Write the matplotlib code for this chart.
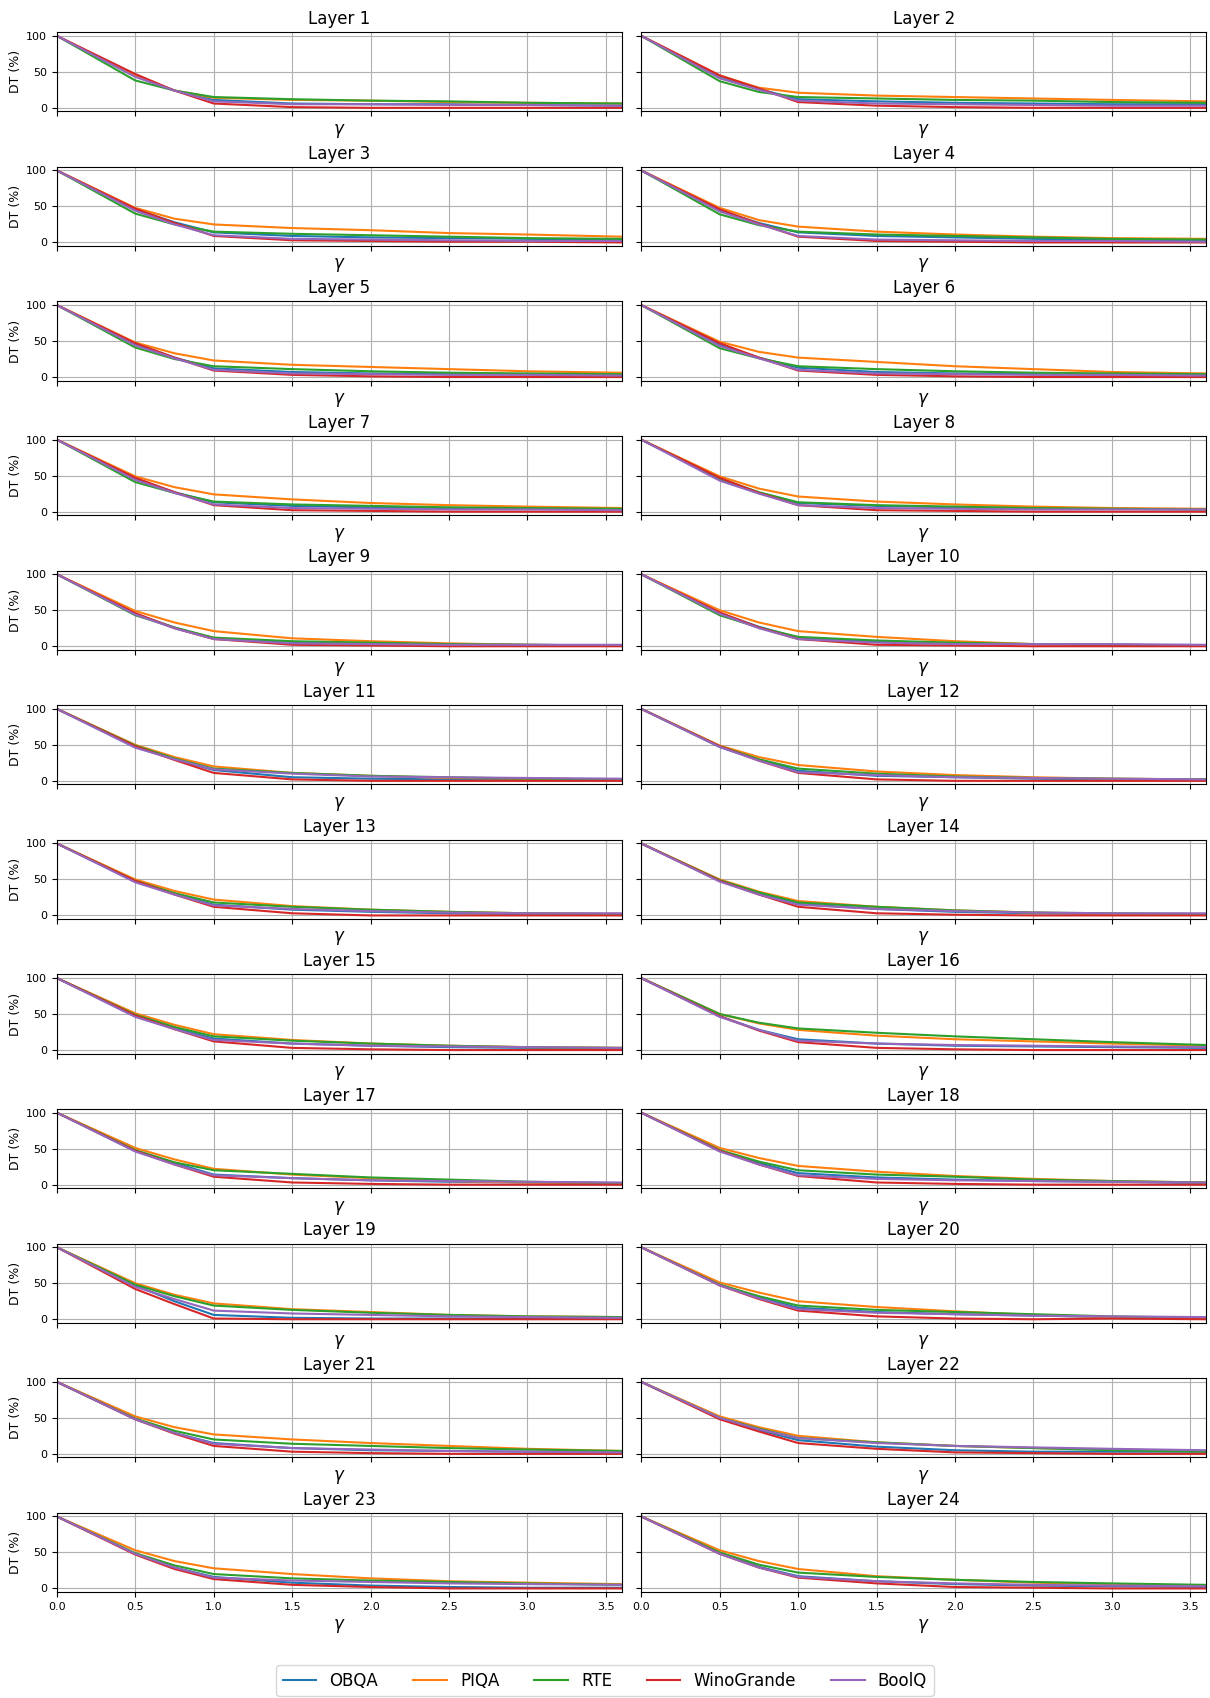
import matplotlib
matplotlib.use("Agg")
import matplotlib.pyplot as plt

gamma = [0.0, 0.5, 0.75, 1.0, 1.5, 2.0, 2.5, 3.0, 3.6]
datasets = ["OBQA", "PIQA", "RTE", "WinoGrande", "BoolQ"]
colors = ["tab:blue", "tab:orange", "tab:green", "tab:red", "tab:purple"]

# DT (%) per layer, one list per dataset
obqa = [
    [100, 44, 24, 11, 6, 5, 5, 4, 3],
    [100, 42, 26, 12, 9, 7, 6, 5, 5],
    [100, 46, 28, 14, 9, 7, 6, 5, 4],
    [100, 44, 27, 14, 9, 7, 5, 4, 3],
    [100, 46, 27, 12, 7, 5, 4, 4, 3],
    [100, 45, 27, 13, 7, 5, 4, 3, 3],
    [100, 46, 27, 13, 8, 6, 5, 4, 3],
    [100, 45, 26, 12, 8, 6, 5, 4, 3],
    [100, 45, 26, 11, 5, 4, 3, 2, 1],
    [100, 46, 27, 12, 6, 4, 3, 2, 1],
    [100, 47, 30, 15, 5, 3, 2, 1, 1],
    [100, 47, 29, 14, 7, 5, 3, 2, 2],
    [100, 47, 30, 15, 8, 5, 3, 2, 2],
    [100, 48, 30, 16, 9, 5, 3, 2, 1],
    [100, 47, 30, 16, 9, 6, 4, 3, 2],
    [100, 47, 28, 15, 9, 6, 5, 4, 3],
    [100, 47, 30, 14, 9, 6, 4, 3, 2],
    [100, 47, 30, 16, 10, 7, 5, 4, 2],
    [100, 47, 25, 6, 2, 1, 1, 1, 1],
    [100, 48, 30, 16, 10, 7, 5, 3, 2],
    [100, 48, 29, 15, 8, 5, 4, 3, 2],
    [100, 49, 33, 19, 10, 5, 3, 3, 3],
    [100, 48, 29, 16, 8, 4, 2, 1, 1],
    [100, 49, 30, 17, 10, 6, 4, 3, 2],
]
piqa = [
    [100, 45, 24, 14, 11, 10, 8, 7, 6],
    [100, 45, 28, 21, 17, 15, 13, 11, 9],
    [100, 48, 33, 25, 20, 17, 13, 11, 8],
    [100, 48, 31, 22, 15, 11, 8, 6, 5],
    [100, 48, 33, 23, 17, 14, 11, 8, 6],
    [100, 49, 35, 27, 21, 15, 11, 7, 5],
    [100, 49, 34, 24, 17, 12, 9, 7, 5],
    [100, 49, 32, 21, 14, 10, 7, 5, 4],
    [100, 49, 33, 21, 11, 7, 4, 2, 1],
    [100, 50, 33, 21, 13, 7, 3, 2, 1],
    [100, 50, 33, 20, 11, 7, 4, 3, 2],
    [100, 49, 33, 22, 13, 8, 5, 3, 2],
    [100, 50, 34, 22, 13, 8, 5, 3, 2],
    [100, 50, 33, 20, 12, 7, 4, 2, 1],
    [100, 51, 35, 22, 14, 9, 6, 4, 3],
    [100, 50, 37, 28, 20, 15, 12, 9, 6],
    [100, 51, 35, 22, 14, 9, 5, 3, 2],
    [100, 51, 37, 26, 18, 12, 8, 5, 3],
    [100, 50, 34, 22, 14, 10, 6, 4, 3],
    [100, 51, 37, 25, 17, 11, 6, 3, 2],
    [100, 52, 37, 27, 20, 15, 11, 7, 4],
    [100, 52, 37, 25, 16, 11, 8, 6, 4],
    [100, 53, 38, 28, 20, 14, 10, 8, 6],
    [100, 53, 38, 27, 17, 12, 8, 6, 4],
]
rte = [
    [100, 38, 24, 15, 12, 10, 9, 7, 6],
    [100, 37, 22, 15, 13, 11, 10, 8, 7],
    [100, 40, 25, 15, 12, 10, 8, 6, 5],
    [100, 39, 24, 15, 11, 9, 7, 5, 4],
    [100, 41, 25, 15, 11, 8, 6, 5, 4],
    [100, 40, 26, 15, 11, 8, 6, 5, 4],
    [100, 41, 26, 14, 10, 8, 6, 5, 4],
    [100, 46, 27, 13, 9, 7, 5, 4, 3],
    [100, 43, 26, 12, 7, 5, 3, 2, 1],
    [100, 43, 26, 13, 8, 5, 3, 2, 1],
    [100, 49, 31, 17, 11, 7, 5, 3, 2],
    [100, 48, 30, 17, 10, 6, 4, 3, 2],
    [100, 48, 31, 18, 12, 8, 5, 3, 2],
    [100, 49, 32, 18, 12, 7, 4, 3, 2],
    [100, 49, 32, 19, 13, 9, 6, 4, 3],
    [100, 50, 38, 30, 24, 19, 15, 11, 7],
    [100, 48, 31, 20, 15, 10, 7, 4, 2],
    [100, 48, 32, 20, 14, 11, 7, 5, 3],
    [100, 48, 32, 19, 13, 9, 6, 4, 3],
    [100, 48, 32, 19, 13, 10, 7, 4, 2],
    [100, 49, 32, 20, 14, 11, 8, 6, 4],
    [100, 50, 35, 22, 16, 11, 8, 5, 3],
    [100, 49, 32, 20, 14, 11, 9, 7, 5],
    [100, 50, 33, 22, 16, 12, 9, 7, 5],
]
wino = [
    [100, 47, 24, 6, 1, 0, 0, 0, 0],
    [100, 45, 27, 8, 3, 1, 0, 0, 0],
    [100, 47, 27, 9, 3, 2, 1, 1, 0],
    [100, 46, 26, 8, 2, 1, 0, 0, 0],
    [100, 47, 27, 9, 3, 1, 0, 0, 0],
    [100, 47, 27, 9, 3, 1, 0, 0, 0],
    [100, 47, 27, 9, 2, 1, 0, 0, 0],
    [100, 47, 26, 9, 2, 1, 0, 0, 0],
    [100, 46, 25, 10, 2, 1, 0, 0, 0],
    [100, 47, 26, 10, 2, 1, 0, 0, 0],
    [100, 48, 29, 11, 2, 0, 0, 0, 0],
    [100, 48, 28, 11, 2, 0, 0, 0, 0],
    [100, 48, 29, 12, 3, 0, 0, 0, 0],
    [100, 48, 29, 12, 3, 1, 0, 0, 0],
    [100, 48, 29, 12, 3, 1, 0, 0, 0],
    [100, 47, 27, 11, 3, 1, 0, 0, 0],
    [100, 47, 28, 11, 3, 1, 0, 0, 0],
    [100, 47, 28, 12, 3, 1, 0, 0, 0],
    [100, 42, 21, 1, 0, 0, 0, 0, 0],
    [100, 47, 28, 12, 4, 1, 0, 1, 0],
    [100, 48, 28, 11, 3, 1, 0, 0, 0],
    [100, 48, 31, 15, 7, 2, 1, 0, 0],
    [100, 47, 27, 13, 5, 2, 0, 0, 0],
    [100, 48, 29, 15, 7, 2, 1, 0, 0],
]
boolq = [
    [100, 43, 24, 9, 5, 5, 4, 4, 3],
    [100, 41, 25, 10, 6, 5, 4, 3, 3],
    [100, 44, 25, 10, 5, 4, 3, 2, 2],
    [100, 43, 25, 9, 4, 3, 2, 2, 1],
    [100, 44, 26, 10, 5, 4, 3, 3, 2],
    [100, 43, 26, 10, 5, 4, 3, 3, 2],
    [100, 44, 26, 10, 5, 4, 3, 3, 2],
    [100, 43, 25, 9, 5, 4, 3, 3, 3],
    [100, 44, 25, 10, 4, 3, 2, 2, 2],
    [100, 45, 25, 10, 5, 3, 3, 3, 2],
    [100, 46, 30, 16, 10, 6, 5, 4, 3],
    [100, 47, 28, 12, 8, 5, 4, 3, 2],
    [100, 46, 29, 14, 9, 6, 4, 3, 3],
    [100, 47, 29, 15, 9, 6, 4, 3, 3],
    [100, 46, 29, 14, 9, 6, 5, 4, 3],
    [100, 46, 28, 13, 9, 7, 6, 5, 4],
    [100, 46, 28, 13, 9, 6, 5, 4, 3],
    [100, 46, 28, 13, 8, 6, 5, 4, 3],
    [100, 45, 28, 12, 8, 6, 4, 3, 2],
    [100, 47, 29, 14, 9, 7, 5, 4, 3],
    [100, 48, 29, 14, 8, 6, 4, 3, 2],
    [100, 50, 34, 22, 15, 11, 9, 7, 5],
    [100, 48, 29, 15, 11, 9, 7, 6, 5],
    [100, 48, 29, 16, 10, 7, 5, 4, 3],
]
series = [obqa, piqa, rte, wino, boolq]

fig, axes = plt.subplots(12, 2, figsize=(12.1, 16.98), dpi=100,
                         sharex=True, sharey=True)
fig.subplots_adjust(left=0.047, right=0.9967, top=0.981, bottom=0.0624,
                    wspace=0.035, hspace=0.70)

for layer in range(24):
    ax = axes[layer // 2, layer % 2]
    for name, color, vals in zip(datasets, colors, series):
        ax.plot(gamma, vals[layer], color=color, label=name)
    ax.set_title(f"Layer {layer + 1}", fontsize=12)
    ax.set_xlabel(r"$\gamma$", fontsize=12)
    if layer % 2 == 0:
        ax.set_ylabel("DT (%)", fontsize=9, labelpad=3)
    ax.grid(True)
    ax.tick_params(labelsize=8)
    ax.tick_params(axis="x", labelbottom=(layer >= 22))

ax.set_xlim(0, 3.6)
ax.set_ylim(-5, 105)
ax.set_yticks([0, 50, 100])

handles, labels = axes[0, 0].get_legend_handles_labels()
fig.legend(handles, labels, loc="lower center", ncol=5, fontsize=12,
           bbox_to_anchor=(0.5, -0.004), handlelength=2.0, columnspacing=2.1)

fig.savefig("out.png", dpi=100)
